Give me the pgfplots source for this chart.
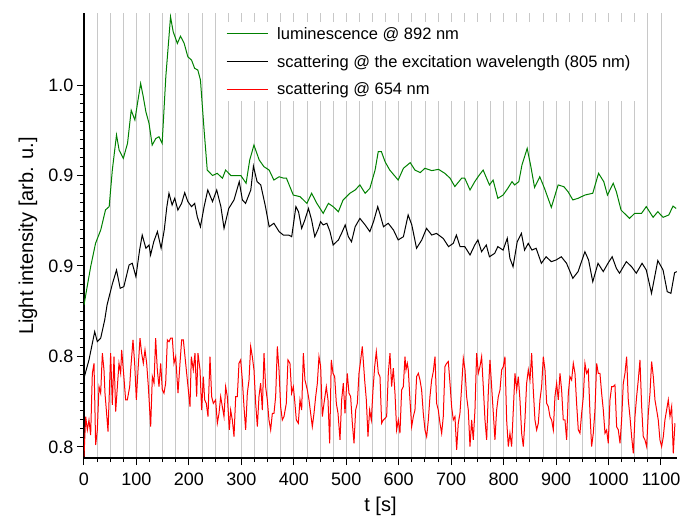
\documentclass[border=0pt]{standalone}
\usepackage{fontspec}
\setmainfont{Liberation Sans}
\usepackage{pgfplots}
\pgfplotsset{compat=1.18}
\definecolor{lumgreen}{RGB}{0,128,0}
\definecolor{gridgray}{RGB}{200,200,200}

\begin{document}
\begin{tikzpicture}
\useasboundingbox (-84pt,-59pt) rectangle (597pt,458pt);
\begin{axis}[
    scale only axis,
    width=593pt, height=445pt,
    xmin=0, xmax=1130.6,
    ymin=0.7939, ymax=1.0398,
    axis x line*=bottom, axis y line*=left,
    axis line style={-, line width=1.1pt},
    tick align=outside,
    major tick length=7pt, minor tick length=4pt,
    tick style={black, line width=1pt},
    xtick={0,100,...,1100},
    minor x tick num=3,
    ytick={0.80,0.85,0.90,0.95,1.00},
    yticklabels={0.8,0.8,0.9,0.9,1.0},
    minor y tick num=9,
    xmajorgrids, xminorgrids,
    grid style={gridgray, line width=0.8pt},
    minor grid style={gridgray, line width=0.8pt},
    /pgf/number format/assume math mode=true,
    /pgf/number format/1000 sep={},
    ticklabel style={font=\fontsize{18}{20}\selectfont},
    xticklabel style={yshift=-4pt},
    xlabel={t [s]},
    ylabel={Light intensity [arb. u.]},
    label style={font=\fontsize{20}{22}\selectfont},
    xlabel style={at={(axis description cs:0.5,-0.108)}, anchor=center},
    ylabel style={at={(axis description cs:-0.0944,0.499)}, anchor=center},
    legend style={at={(axis description cs:0.2327,0.98)}, anchor=north west,
        draw=none, fill=white, font=\fontsize{16.5}{20}\selectfont,
        row sep=10.5pt, inner xsep=4pt, inner ysep=3pt,
        /tikz/every odd column/.append style={column sep=7pt}},
    legend cell align=left,
    legend image code/.code={\draw[#1] (0pt,0pt) -- (41pt,0pt);},
]
\addplot[lumgreen, line width=1pt] coordinates {
(0,0.8785) (12.7,0.8996) (22,0.9125) (32,0.920) (41,0.931) (48,0.9328) (54,0.953) (62,0.9724) (67,0.964) (75,0.9595)
(83,0.9678) (90,0.986) (97,0.9807) (108,1.0009) (113,0.9935) (118,0.9852) (124,0.9788) (130,0.9668) (137,0.9705) (143,0.9714)
(149,0.9678) (156,1.0046) (165,1.0377) (170,1.0295) (178,1.023) (184,1.027) (191,1.023) (198,1.0156) (205,1.0138) (211,1.0092)
(217,1.0083) (222,1.0028) (229,0.975) (235,0.953) (245,0.950) (254,0.9512) (264,0.9485) (270,0.953) (280,0.950) (289,0.950)
(299,0.950) (309,0.9457) (316,0.9586) (324,0.9668) (334,0.9586) (343,0.9549) (353,0.953) (362,0.9475) (372,0.9493) (381,0.9485)
(386,0.9485) (399,0.9392) (412,0.9383) (425,0.9346) (434,0.9402) (444,0.9346) (456,0.9291) (466,0.9346) (475,0.9328) (485,0.930)
(494,0.9365) (507,0.9402) (517,0.942) (526,0.9448) (536,0.9402) (545,0.9429) (555,0.953) (561,0.9632) (567,0.9632) (574,0.9576)
(583,0.953) (599,0.9475) (609,0.954) (622,0.9571) (631,0.953) (641,0.9516) (650,0.954) (663,0.9527) (676,0.9534) (688,0.9512)
(698,0.9485) (707,0.9439) (720,0.9485) (726,0.9485) (736,0.942) (745,0.9466) (753,0.950) (761,0.953) (773,0.9448) (780,0.9475)
(789,0.9374) (799,0.9392) (808,0.9429) (816,0.9466) (821,0.9448) (829,0.9466) (835,0.9558) (845,0.965) (852,0.9549) (859,0.9434)
(869,0.9493) (878,0.9429) (891,0.9324) (904,0.9448) (915,0.9438) (923,0.941) (932,0.9365) (942,0.9374) (955,0.9392) (970,0.9402)
(981,0.9512) (991,0.9466) (998,0.9392) (1009,0.9457) (1015,0.941) (1024,0.9309) (1040,0.9263) (1050,0.9291) (1063,0.9291) (1072,0.9328)
(1085,0.9269) (1094,0.930) (1104,0.9269) (1115,0.9282) (1123,0.9331) (1129,0.9318)
};
\addlegendentry{luminescence @ 892 nm}
\addplot[black, line width=1pt] coordinates {
(0,0.8381) (9.5,0.8481) (20.4,0.8637) (25.4,0.8582) (31.8,0.8601) (39.5,0.8702) (44,0.8785) (54,0.890) (62,0.8978) (69,0.8877)
(76,0.8886) (86,0.9006) (92,0.9015) (99,0.8941) (106,0.9088) (111,0.9171) (118,0.9098) (124,0.9116) (127,0.9061) (133,0.9134)
(140,0.919) (147,0.9098) (153,0.9199) (158,0.9328) (162,0.9402) (168,0.9337) (173,0.9374) (179,0.9309) (186,0.9346) (192,0.9405)
(198,0.9356) (205,0.9328) (211,0.9346) (216,0.9272) (222,0.9217) (229,0.9328) (236,0.942) (245,0.9356) (253,0.942) (261,0.9328)
(267,0.9208) (276,0.9318) (286,0.9365) (296,0.9466) (302,0.9365) (308,0.9346) (318,0.942) (323,0.9552) (330,0.9466) (337,0.9448)
(346,0.9328) (353,0.9217) (362,0.9236) (372,0.919) (380,0.9171) (390,0.9171) (396,0.9162) (404,0.9328) (409,0.930) (415,0.9208)
(421,0.9254) (428,0.9318) (434,0.9254) (440,0.9162) (447,0.9208) (451,0.9245) (456,0.9227) (463,0.9236) (469,0.919) (475,0.9116)
(485,0.9144) (491,0.918) (498,0.9227) (504,0.9162) (510,0.9134) (517,0.9217) (526,0.9263) (536,0.9227) (545,0.919) (552,0.9245)
(560,0.9328) (564,0.929) (571,0.9217) (580,0.9236) (590,0.9199) (599,0.9144) (609,0.9162) (618,0.9282) (625,0.9227) (634,0.9098)
(644,0.9144) (653,0.9208) (663,0.9171) (672,0.918) (685,0.9152) (695,0.9107) (704,0.9125) (710,0.9171) (717,0.9107) (726,0.9107)
(736,0.9061) (745,0.9116) (751,0.9144) (758,0.9079) (767,0.9116) (773,0.9051) (783,0.907) (789,0.9107) (799,0.9088) (807,0.9153)
(812,0.9043) (818,0.8996) (826,0.9134) (834,0.918) (840,0.9088) (847,0.9125) (854,0.9088) (862,0.9098) (872,0.9015) (881,0.9051)
(891,0.9024) (900,0.9033) (910,0.9051) (920,0.9015) (932,0.8932) (942,0.8969) (955,0.9079) (962,0.9033) (970,0.8913) (980,0.9015)
(990,0.8969) (999,0.9015) (1007,0.9051) (1015,0.8987) (1021,0.896) (1034,0.9024) (1044,0.8996) (1053,0.896) (1064,0.9015) (1072,0.8978)
(1082,0.8849) (1094,0.903) (1104,0.8978) (1112,0.8858) (1119,0.8849) (1126,0.8963) (1130,0.8969)
};
\addlegendentry{scattering @ the excitation wavelength (805 nm)}
\addplot[red, line width=1pt] coordinates {
(0,0.7947) (3.2,0.8168) (6.4,0.8094) (9.5,0.8149) (12.7,0.8066) (15.9,0.8407) (19.1,0.8462) (22.2,0.8011) (25.4,0.8094) (28.6,0.8333)
(31.8,0.8297) (35.0,0.8518) (38.1,0.8426) (40.0,0.8297) (42.6,0.8204) (45.8,0.8085) (50.8,0.8518) (54.0,0.8232) (57.2,0.8499) (60.4,0.8195)
(63.6,0.8333) (66.7,0.8462) (69.9,0.8407) (71.8,0.8536) (75.0,0.8426) (79.4,0.8260) (82.6,0.8260) (87.1,0.8333) (89.0,0.8426) (93.4,0.8592)
(96.6,0.8462) (99.8,0.8260) (103.0,0.8426) (106.8,0.8601) (109.9,0.8518) (113.1,0.8462) (116.3,0.8536) (119.5,0.8462) (122.7,0.8333) (127.1,0.8112)
(130.3,0.8389) (133.5,0.8352) (136.6,0.8601) (139.8,0.8426) (143.0,0.8333) (146.2,0.8462) (149.3,0.8315) (152.5,0.8297) (155.7,0.8352) (158.9,0.8592)
(162.1,0.8582) (165.2,0.8601) (168.4,0.8601) (171.6,0.8462) (174.8,0.8499) (179.2,0.8297) (183.0,0.8462) (186.2,0.8592) (189.4,0.8592) (191.9,0.8518)
(195.1,0.8426) (198.3,0.8333) (202.1,0.8223) (204.6,0.8499) (208.4,0.8426) (211.6,0.8518) (214.8,0.8278) (217.3,0.8518) (221.2,0.8426) (224.3,0.8204)
(227.5,0.8389) (230.1,0.8260) (233.2,0.8241) (236.4,0.8168) (240.2,0.8499) (243.4,0.8278) (246.6,0.8241) (251.0,0.8260) (254.2,0.8131) (257.4,0.8186)
(260.6,0.8278) (263.7,0.8223) (266.9,0.8168) (270.1,0.8333) (273.3,0.8278) (277.1,0.8094) (279.6,0.8204) (282.8,0.8149) (286.0,0.8057) (289.2,0.8278)
(292.3,0.8278) (295.5,0.8462) (298.7,0.8481) (301.9,0.8370) (305.0,0.8223) (308.2,0.8094) (311.4,0.8297) (314.6,0.8370) (317.8,0.8555) (320.9,0.8499)
(324.1,0.8426) (327.3,0.8241) (330.5,0.8112) (333.6,0.8278) (336.8,0.8352) (340.0,0.8204) (343.2,0.8518) (346.3,0.8333) (349.5,0.8260) (352.7,0.8149)
(355.9,0.8094) (359.1,0.8186) (362.2,0.8186) (365.4,0.8278) (368.6,0.8555) (371.8,0.8426) (374.9,0.8223) (378.1,0.8149) (381.3,0.8168) (385.7,0.8241)
(388.9,0.8481) (392.7,0.8462) (395.9,0.8297) (399.1,0.8333) (401.6,0.8260) (404.8,0.8149) (408.6,0.8131) (411.8,0.8260) (415.0,0.8204) (418.2,0.8518)
(421.3,0.8370) (425.8,0.8315) (429.0,0.8260) (432.1,0.8186) (435.3,0.8112) (438.5,0.8186) (441.7,0.8278) (444.9,0.8352) (448.0,0.8499) (451.2,0.8444)
(454.4,0.8168) (457.6,0.8241) (462.0,0.8333) (465.2,0.8260) (468.4,0.8020) (471.5,0.8481) (474.7,0.8407) (477.9,0.8389) (481.1,0.8241) (484.3,0.8186)
(488.1,0.8039) (491.2,0.8260) (494.4,0.8352) (497.6,0.8186) (502.0,0.8407) (505.2,0.8297) (508.4,0.8278) (511.6,0.8131) (514.8,0.8020) (517.9,0.8204)
(521.1,0.8241) (524.3,0.8407) (527.5,0.8481) (530.6,0.8555) (535.1,0.8370) (538.3,0.8260) (541.4,0.8057) (544.6,0.8204) (547.8,0.8149) (551.0,0.8315)
(554.2,0.8444) (557.3,0.8527) (561.2,0.8407) (564.3,0.8389) (567.5,0.8131) (570.7,0.8149) (573.8,0.8158) (577.0,0.8168) (580.2,0.8407) (583.4,0.8518)
(586.5,0.8333) (589.7,0.8435) (592.9,0.8297) (596.1,0.8094) (599.3,0.8149) (602.4,0.8076) (605.6,0.8315) (608.8,0.8333) (612.0,0.8499) (613.9,0.8426)
(616.4,0.8462) (618.3,0.8426) (621.5,0.8260) (624.7,0.8112) (627.9,0.8168) (631.0,0.8204) (634.2,0.8389) (637.4,0.8407) (640.6,0.8370) (643.7,0.8315)
(646.9,0.8186) (650.1,0.8094) (653.3,0.8057) (656.5,0.8149) (659.6,0.8278) (662.8,0.8370) (666.0,0.8417) (669.2,0.8499) (672.3,0.8241) (675.5,0.8204)
(678.7,0.8131) (681.9,0.8076) (685.0,0.8168) (688.2,0.8444) (691.4,0.8462) (694.6,0.8472) (697.8,0.8352) (700.9,0.8223) (704.1,0.8149) (707.3,0.8168)
(710.5,0.7984) (713.6,0.8131) (716.8,0.8186) (720.0,0.8333) (723.2,0.8490) (726.4,0.8426) (729.5,0.8278) (732.7,0.8204) (735.9,0.8002) (739.1,0.8149)
(742.2,0.8039) (745.4,0.8204) (748.6,0.8518) (751.8,0.8407) (754.9,0.8444) (758.1,0.8499) (761.3,0.8333) (764.5,0.8149) (767.7,0.8039) (770.8,0.8297)
(774.0,0.8481) (777.2,0.8333) (780.4,0.8186) (783.5,0.8039) (786.7,0.8204) (789.9,0.8278) (793.1,0.8315) (796.3,0.8426) (799.4,0.8444) (802.6,0.8499)
(805.8,0.8149) (809.0,0.8002) (812.1,0.8076) (815.3,0.8002) (818.5,0.8204) (821.7,0.8407) (824.9,0.8315) (828.0,0.8389) (831.2,0.8260) (834.4,0.8076)
(837.6,0.8002) (840.7,0.8149) (843.9,0.8352) (847.1,0.8426) (850.3,0.8370) (853.5,0.8518) (856.6,0.8315) (859.8,0.8149) (863.0,0.8094) (866.2,0.8131)
(869.3,0.8260) (872.5,0.8333) (875.7,0.8499) (878.9,0.8426) (882.1,0.8241) (885.2,0.8223) (888.4,0.8168) (891.6,0.8149) (894.8,0.8094) (897.9,0.8278)
(901.1,0.8352) (904.3,0.8260) (907.5,0.8407) (910.6,0.8315) (913.8,0.8149) (917.0,0.8149) (920.2,0.8039) (923.4,0.8297) (926.5,0.8389) (929.7,0.8370)
(932.9,0.8462) (936.1,0.8407) (939.2,0.8241) (942.4,0.8094) (945.6,0.8076) (948.8,0.8186) (952.0,0.8278) (955.1,0.8462) (958.3,0.8407) (961.5,0.8426)
(964.7,0.8186) (967.8,0.8002) (971.0,0.8076) (974.2,0.8204) (977.4,0.8462) (980.5,0.8407) (983.7,0.8407) (986.9,0.8297) (990.1,0.8204) (993.3,0.8076)
(996.4,0.8094) (999.6,0.8020) (1002.8,0.8260) (1006.0,0.8333) (1009.1,0.8333) (1012.3,0.8343) (1015.5,0.8112) (1018.7,0.8094) (1021.9,0.8020) (1025.0,0.8149)
(1028.2,0.8352) (1031.4,0.8407) (1034.6,0.8499) (1037.7,0.8260) (1040.9,0.8168) (1044.1,0.8057) (1047.3,0.7965) (1050.5,0.8168) (1053.6,0.8278) (1056.8,0.8370)
(1060.0,0.8481) (1063.2,0.8223) (1066.3,0.8057) (1069.5,0.8039) (1072.7,0.8002) (1075.9,0.8186) (1079.1,0.8297) (1082.2,0.8472) (1085.4,0.8389) (1088.6,0.8260)
(1091.8,0.8204) (1094.9,0.8149) (1098.1,0.8039) (1101.3,0.8002) (1104.5,0.8057) (1107.6,0.8149) (1110.8,0.8204) (1114.0,0.8260) (1117.2,0.8168) (1120.4,0.8223)
(1123.5,0.7965) (1126.7,0.8131)
};
\addlegendentry{scattering @ 654 nm}
\end{axis}
\end{tikzpicture}
\end{document}
